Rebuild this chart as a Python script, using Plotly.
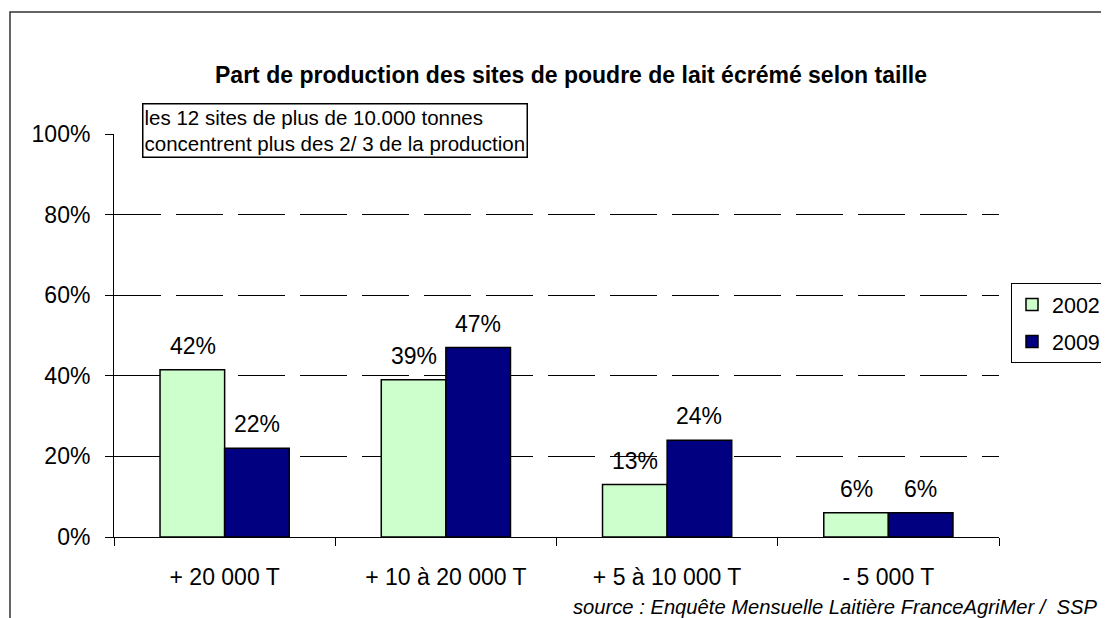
import plotly.graph_objects as go

# Part de production par taille de site (poudre de lait écrémé)
categories = ["+ 20 000 T", "+ 10 à 20 000 T", "+ 5 à 10 000 T", "- 5 000 T"]
years = ["2002", "2009"]
share_2002 = [41.5, 39, 13, 6]
share_2009 = [22, 47, 24, 6]
labels_2002 = ["42%", "39%", "13%", "6%"]
labels_2009 = ["22%", "47%", "24%", "6%"]

FONT = "Liberation Sans, Arial, sans-serif"
OFF = 8  # marge du body html
W, H = 1101, 610
LEG_X = 1011  # bord gauche de la légende (écran)
L, T = 114 - OFF, 134 - OFF
R = W - (1004 - OFF)
B = H - (537 - OFF)
R_eff = max(R, W - (LEG_X - OFF) + 12)  # la légende réserve sa place + 12 px
PW, PH = W - L - R_eff, H - T - B


def px_to_paper(x, y):
    # coordonnées écran -> coordonnées papier
    return (x - OFF - L) / PW, (H - B - (y - OFF)) / PH


fig = go.Figure()
fig.add_trace(go.Bar(x=categories, y=share_2002, name=years[0], legendgroup="a",
                     marker=dict(color="#CCFFCC", line=dict(color="black", width=1.5))))
fig.add_trace(go.Bar(x=categories, y=share_2009, name=years[1], legendgroup="b",
                     marker=dict(color="#000080", line=dict(color="black", width=1.5))))

# étiquettes de valeurs au-dessus des barres
for vals, labs, shift in [(share_2002, labels_2002, -32), (share_2009, labels_2009, 32)]:
    for c, v, lab in zip(categories, vals, labs):
        fig.add_annotation(x=c, y=v, text=lab, showarrow=False, xshift=shift, yshift=24,
                           font=dict(family=FONT, size=23, color="black"))

bx, by = px_to_paper(142, 103)
fig.add_annotation(xref="paper", yref="paper", x=bx, y=by, xanchor="left", yanchor="top",
                   text="les 12 sites de plus de 10.000 tonnes<br>concentrent plus des 2/ 3 de la production",
                   align="left", showarrow=False, bordercolor="black", borderwidth=1.5, borderpad=1,
                   bgcolor="white", font=dict(family=FONT, size=20.5, color="black"))

sx, sy = px_to_paper(1100, 607)
fig.add_annotation(xref="paper", yref="paper", x=sx, y=sy, xanchor="right", yanchor="middle",
                   text="<i>source : Enquête Mensuelle Laitière FranceAgriMer /  SSP</i>",
                   showarrow=False, font=dict(family=FONT, size=20.2, color="black"))

# cadre extérieur du graphique
x0, y0 = px_to_paper(10, 12)
x1, y1 = px_to_paper(1130, 640)
fig.add_shape(type="rect", xref="paper", yref="paper", x0=x0, y0=y1, x1=x1, y1=y0,
              line=dict(color="#333333", width=1.5), layer="below")

fig.update_layout(
    width=W, height=H,
    margin=dict(l=L, r=R, t=T, b=B),
    paper_bgcolor="white", plot_bgcolor="white",
    font=dict(family=FONT, size=23, color="black"),
    title=dict(text="<b>Part de production des sites de poudre de lait écrémé selon taille</b>",
               x=(571 - OFF) / W, xanchor="center", y=1 - (75 - OFF) / H, yanchor="middle",
               font=dict(family=FONT, size=23, color="black")),
    barmode="group", bargap=0.416, bargroupgap=0,
    showlegend=True,
    legend=dict(xref="container", yref="container",
                x=(LEG_X - OFF) / W, y=1 - (283 - OFF) / H, xanchor="left", yanchor="top",
                bordercolor="black", borderwidth=1,
                bgcolor="white", font=dict(family=FONT, size=21.5), traceorder="grouped",
                tracegroupgap=6, itemwidth=30),
    xaxis=dict(showline=True, linecolor="black", linewidth=1, ticks="outside", ticklen=8,
               tickcolor="black", tickson="boundaries", showgrid=False,
               tickfont=dict(family=FONT, size=23), ticklabelstandoff=19),
    yaxis=dict(range=[0, 100], dtick=20, ticksuffix="%", showline=True, linecolor="black",
               linewidth=1, ticks="outside", ticklen=8, tickcolor="black",
               showgrid=True, gridcolor="black", gridwidth=1, griddash="47px,15px",
               zeroline=False, tickfont=dict(family=FONT, size=23), ticklabelstandoff=10),
)

fig.write_html("out.html")
